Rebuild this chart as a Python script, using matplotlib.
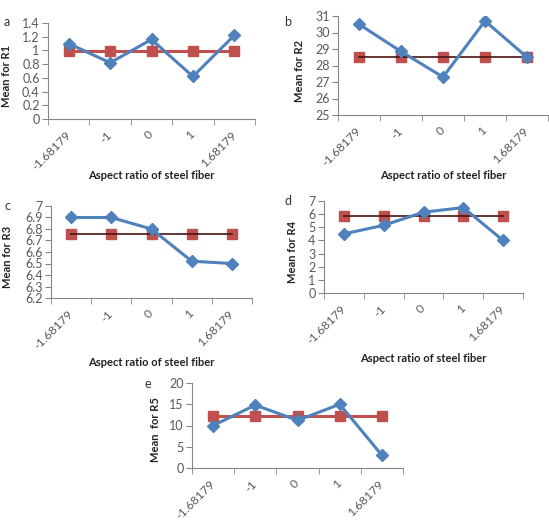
import matplotlib.pyplot as plt

plt.rcParams['font.family'] = ['Lato', 'DejaVu Sans']

categories = ["-1.68179", "-1", "0", "1", "1.68179"]

r1_mean = [1.10, 0.82, 1.16, 0.62, 1.22]
r1_avg = [0.99, 0.99, 0.99, 0.99, 0.99]
r2_mean = [30.5, 28.85, 27.3, 30.7, 28.5]
r2_avg = [28.5, 28.5, 28.5, 28.5, 28.5]
r3_mean = [6.90, 6.90, 6.80, 6.52, 6.50]
r3_avg = [6.755, 6.755, 6.755, 6.755, 6.755]
r4_mean = [4.5, 5.15, 6.15, 6.5, 4.0]
r4_avg = [5.85, 5.85, 5.85, 5.85, 5.85]
r5_mean = [10.0, 14.8, 11.2, 15.0, 3.0]
r5_avg = [12.2, 12.2, 12.2, 12.2, 12.2]

W, H = 549, 528
BLUE = "#4F81BD"
RED = "#C0504D"
DARK = "#4a1414"
GREY = "#868686"
TXT = "#595959"

fig = plt.figure(figsize=(W / 100, H / 100), dpi=100)


def panel(box, letter, lpos, mean, avg, ylim, yticks, ylabel, ylab_x, xlab_y, thin):
    l, t, r, b = box
    ax = fig.add_axes([l / W, 1 - b / H, (r - l) / W, (b - t) / H])
    x = list(range(len(categories)))
    if thin:
        ax.plot(x, avg, color=RED, lw=0, marker="s", ms=7, zorder=2)
        ax.plot(x, avg, color=DARK, lw=1.2, zorder=3)
    else:
        ax.plot(x, avg, color=RED, lw=2.2, marker="s", ms=7, zorder=2)
    ax.plot(x, mean, color=BLUE, lw=2.2, marker="D", ms=6, zorder=4)
    ax.set_xlim(-0.5, len(categories) - 0.5)
    ax.set_ylim(*ylim)
    ax.set_yticks(yticks)
    ax.set_yticklabels([f"{v:g}" for v in yticks])
    ax.set_xticks(x)
    ax.set_xticklabels(categories, rotation=45, ha="right", va="center",
                       rotation_mode="anchor")
    ax.set_xticks([i - 0.5 for i in range(len(categories) + 1)], minor=True)
    ax.tick_params(axis="x", which="major", length=0, pad=10, labelsize=8.8,
                   labelcolor=TXT)
    ax.tick_params(axis="x", which="minor", length=4, color=GREY, direction="out")
    ax.tick_params(axis="y", length=4, color=GREY, labelsize=9, labelcolor=TXT,
                   pad=2)
    for s in ("top", "right"):
        ax.spines[s].set_visible(False)
    for s in ("left", "bottom"):
        ax.spines[s].set_color(GREY)
        ax.spines[s].set_linewidth(0.8)
    ax.set_ylabel(ylabel, fontsize=8, fontweight="bold", color="#222222")
    ax.yaxis.set_label_coords(ylab_x, 0.45)
    ax.set_xlabel("Aspect ratio of steel fiber", fontsize=8, fontweight="bold",
                  color="#222222")
    ax.xaxis.set_label_coords(0.5, xlab_y)
    fig.text(lpos[0] / W, 1 - lpos[1] / H, letter, fontsize=9, color="#333333",
             ha="center", va="center")
    return ax


panel((48, 23, 255, 119), "a", (7, 22), r1_mean, r1_avg, (0, 1.4),
      [0, 0.2, 0.4, 0.6, 0.8, 1, 1.2, 1.4], "Mean for R1", -0.175, -0.53, False)
panel((338, 16, 548, 115), "b", (288, 22), r2_mean, r2_avg, (25, 31),
      [25, 26, 27, 28, 29, 30, 31], "Mean for R2", -0.155, -0.555, True)
panel((51, 206, 252, 298), "c", (7, 206), r3_mean, r3_avg, (6.2, 7.0),
      [6.2, 6.3, 6.4, 6.5, 6.6, 6.7, 6.8, 6.9, 7.0], "Mean for R3", -0.19, -0.64, True)
panel((324, 201, 523, 293), "d", (288, 201), r4_mean, r4_avg, (0, 7),
      [0, 1, 2, 3, 4, 5, 6, 7], "Mean for R4", -0.13, -0.65, True)
panel((192, 383, 403, 468), "e", (148, 384), r5_mean, r5_avg, (0, 20),
      [0, 5, 10, 15, 20], "Mean  for R5", -0.148, -0.73, False)

fig.savefig("out.png", dpi=100, facecolor="white")
